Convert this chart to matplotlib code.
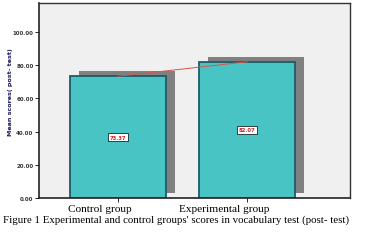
import matplotlib.pyplot as plt
import matplotlib.transforms as mtransforms

groups = ["Control group", "Experimental group"]
scores = [73.37, 82.07]
yticks = [0, 20, 40, 60, 80, 100]
caption = "Figure 1 Experimental and control groups' scores in vocabulary test (post- test)"

fig = plt.figure(figsize=(3.74, 2.53), dpi=100)
ax = fig.add_axes([39 / 374, 1 - 199 / 253, 311 / 374, 195 / 253])
ax.set_facecolor("#f0f0f0")

x = list(range(len(groups)))

# drop shadow, shifted a few pixels up and right
shadow = ax.transData + mtransforms.ScaledTranslation(9 / 100, 5 / 100, fig.dpi_scale_trans)
ax.bar(x, scores, width=0.75, color="#808080", transform=shadow, zorder=1)
ax.bar(x, scores, width=0.75, color="#48c4c4", edgecolor="#1f5a68", linewidth=1.3, zorder=2)

# line joining the bar tops
ax.plot(x, scores, color="#d9534f", linewidth=0.7, zorder=3)

for xi, v in zip(x, scores):
    ax.text(xi, v / 2, f"{v:.2f}", ha="center", va="center", fontsize=3.8,
            fontweight="bold", color="#cc2222", zorder=4,
            bbox=dict(boxstyle="square,pad=0.25", fc="white", ec="black", lw=0.5))

ax.set_xlim(-0.612, 1.798)
ax.set_ylim(0, 117.5)
ax.set_yticks(yticks)
ax.set_yticklabels([f"{t:.2f}" for t in yticks], fontsize=4, fontweight="bold", color="#333333")
ax.set_xticks(x)
ax.set_xticklabels([])
# the category labels sit a bit left of their ticks in the original
for xi, name, dx in zip(x, groups, [-13, -16.5]):
    ax.annotate(name, xy=(xi, 0), xycoords=("data", "axes fraction"),
                xytext=(dx, -4.3), textcoords="offset points",
                ha="center", va="top", family="Liberation Serif", fontsize=8.1)
ax.tick_params(axis="y", length=3, width=0.6, pad=1)
ax.tick_params(axis="x", length=3, width=0.6, pad=0)
ax.set_ylabel("Mean scores( post- test)", fontsize=4.6, fontweight="bold", color="#1a1a5e")
ax.yaxis.set_label_coords(-0.083, 0.55)

for side in ["top", "right"]:
    ax.spines[side].set_linewidth(1.0)
    ax.spines[side].set_color("#333333")
for side in ["left", "bottom"]:
    ax.spines[side].set_linewidth(1.2)
    ax.spines[side].set_color("#222222")

fig.text(3 / 374, 1 - 220 / 253, caption, family="Liberation Serif", fontsize=7.8, va="center", ha="left")

fig.savefig("out.png", dpi=100)
